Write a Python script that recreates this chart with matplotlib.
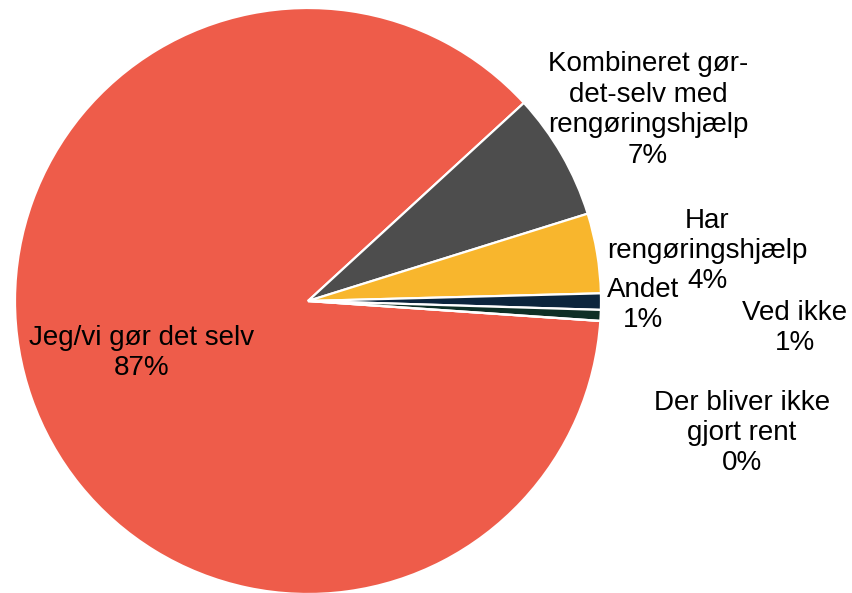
import matplotlib
matplotlib.use("Agg")
from matplotlib import pyplot as plt

# data
labels = [
    "Jeg/vi gør det selv",
    "Kombineret gør-\ndet-selv med\nrengøringshjælp",
    "Har\nrengøringshjælp",
    "Andet",
    "Ved ikke",
    "Der bliver ikke\ngjort rent",
]
values = [87.1, 7.0, 4.4, 0.9, 0.6, 0.0]
colors = ["#EE5C4A", "#4D4D4D", "#F8B62D", "#0C253D", "#0E2F26", "#1F4E79"]

# label positions in pixels (x, y from top-left) of the 853x593 canvas
label_px = [(142, 353), (648, 110), (707, 251), (643, 305), (795, 328), (742, 433)]

W, H = 853, 593
cx, cy, r = 308, 301, 293

plt.rcParams["font.family"] = ["Liberation Sans", "DejaVu Sans"]

fig = plt.figure(figsize=(W / 100, H / 100), dpi=100)
ax = fig.add_axes([0, 0, 1, 1])
ax.pie(
    values,
    colors=colors,
    startangle=-3.9,
    counterclock=False,
    radius=1.0,
    wedgeprops={"edgecolor": "white", "linewidth": 1.6},
)
ax.set_xlim(-cx / r, (W - cx) / r)
ax.set_ylim(-(H - cy) / r, cy / r)
ax.set_aspect("equal")
ax.axis("off")

for lab, val, (px, py) in zip(labels, values, label_px):
    ax.text(
        (px - cx) / r,
        (cy - py) / r,
        f"{lab}\n{val:.0f}%",
        ha="center",
        va="center",
        fontsize=20,
        linespacing=1.22,
        color="black",
    )

plt.savefig("out.png", dpi=100)
